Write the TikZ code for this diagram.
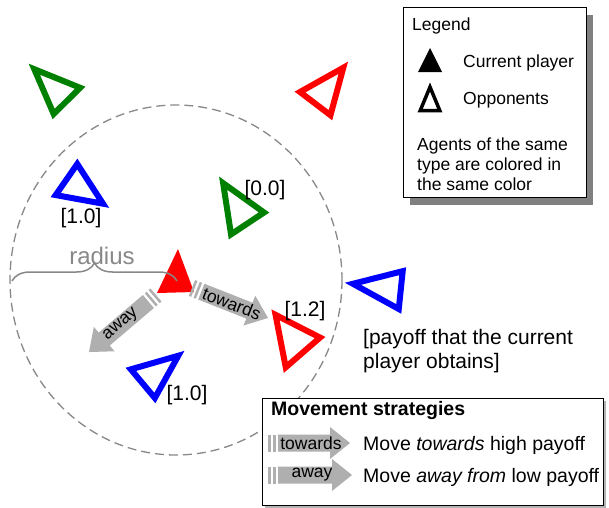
\documentclass[tikz,border=0pt]{standalone}
\usepackage{fontspec}
\setmainfont{Liberation Sans}
\usetikzlibrary{calc,decorations.pathreplacing}
\definecolor{oppgreen}{RGB}{0,128,0}
\definecolor{oppblue}{RGB}{0,0,255}
\definecolor{oppred}{RGB}{255,0,0}
\definecolor{arrowgray}{RGB}{175,175,175}
\definecolor{lightline}{RGB}{136,136,136}
\definecolor{shadowgray}{RGB}{128,128,128}
\tikzset{
  oppline/.style={line width=6pt, line join=miter},
  payoff/.style={font=\fontsize{21}{24}\selectfont, inner sep=0pt},
  legendtext/.style={font=\fontsize{17.5}{20}\selectfont, inner sep=0pt, anchor=base west},
  stratext/.style={font=\fontsize{19.5}{22}\selectfont, inner sep=0pt, anchor=base west},
  pics/fatarrow/.style n args={3}{code={
    \fill[arrowgray] (0,-8.5) rectangle (2.5,8.5);
    \fill[arrowgray] (5,-8.5) rectangle (7.5,8.5);
    \fill[arrowgray] (10,-8.5) -- ({#1-20},-8.5) -- ({#1-20},-16) -- (#1,0) -- ({#1-20},16) -- ({#1-20},8.5) -- (10,8.5) -- cycle;
    \node[transform shape, rotate=#3, font=\fontsize{17.5}{20}\selectfont, inner sep=0pt] at ({(#1)/2+2},0) {#2};
  }},
}
\newcommand\opptri[4]{%
  \path (#2) coordinate (oa) (#3) coordinate (ob) (#4) coordinate (oc);
  \coordinate (og) at (barycentric cs:oa=1,ob=1,oc=1);
  \draw[oppline, #1] ($(oa)!6pt!(og)$) -- ($(ob)!6pt!(og)$) -- ($(oc)!6pt!(og)$) -- cycle;
}
\begin{document}
\begin{tikzpicture}[x=1pt,y=-1pt]
\useasboundingbox[fill=white] (0,0) rectangle (609,507);
% radius circle
\draw[lightline, line width=1.3pt, dash pattern=on 9pt off 5pt] (176,280) ellipse [x radius=166, y radius=175];
% opponents
\opptri{oppgreen}{30,65}{86,87}{53,120}
\opptri{oppred}{347,63}{294,92}{332,121}
\opptri{oppblue}{77,158}{50,197}{108,207}
\opptri{oppgreen}{220,178}{270,213}{229,240}
\opptri{oppred}{272,310}{326,337}{284,373}
\opptri{oppblue}{347,283}{407,267}{402,314}
\opptri{oppblue}{125,368}{183,352}{155,404}
% current player
\fill[oppred] (178,249) -- (157,293) -- (194,292) -- cycle;
% radius brace
\draw[lightline, line width=1.5pt, decorate, decoration={brace, amplitude=18pt}] (12,281) -- (177,281);
\node[text=lightline, font=\fontsize{24}{26}\selectfont, anchor=base, inner sep=0pt] (rad) at (102,264) {radius};
% movement arrows
\pic[rotate=-21.5] at (192,288) {fatarrow={81.7}{towards}{0}};
\pic[rotate=220.4] at (156,295) {fatarrow={88}{away}{180}};
% payoff labels
\node[payoff] (p1) at (81,218) {[1.0]};
\node[payoff] (p2) at (265,190) {[0.0]};
\node[payoff] (p3) at (305,311) {[1.2]};
\node[payoff] (p4) at (187,395) {[1.0]};
\node[payoff, anchor=base west] (n1) at (363,344) {[payoff that the current};
\node[payoff, anchor=base west] (n2) at (363,368) {player obtains]};
% legend
\fill[shadowgray] (410,15) rectangle (593,205);
\draw[fill=white, line width=0.8pt] (403,7) rectangle (586,197);
\node[legendtext] (lg) at (412,30) {Legend};
\fill (430,48) -- (418,72) -- (442,72) -- cycle;
\node[legendtext] (lc) at (463,67) {Current player};
\draw[line width=3.5pt, line join=miter] (430,87) -- (420.2,110.6) -- (439.8,110.6) -- cycle;
\node[legendtext] (lo) at (463,104) {Opponents};
\node[legendtext] (la1) at (417,150) {Agents of the same};
\node[legendtext] (la2) at (417,170) {type are colored in};
\node[legendtext] (la3) at (417,190) {the same color};
% strategies box
\fill[shadowgray!60] (265,401) rectangle (606,508);
\draw[fill=white, line width=0.8pt] (262,398) rectangle (603,505);
\node[stratext, font=\fontsize{19.5}{22}\selectfont\bfseries] (ms) at (271,415) {Movement strategies};
\pic at (268,443) {fatarrow={82}{towards}{0}};
\node[stratext] (mt) at (363,450) {Move \textit{towards} high payoff};
\pic at (268,475) {fatarrow={84}{away}{0}};
\node[stratext] (ma) at (363,482) {Move \textit{away from} low payoff};
\end{tikzpicture}
\end{document}
